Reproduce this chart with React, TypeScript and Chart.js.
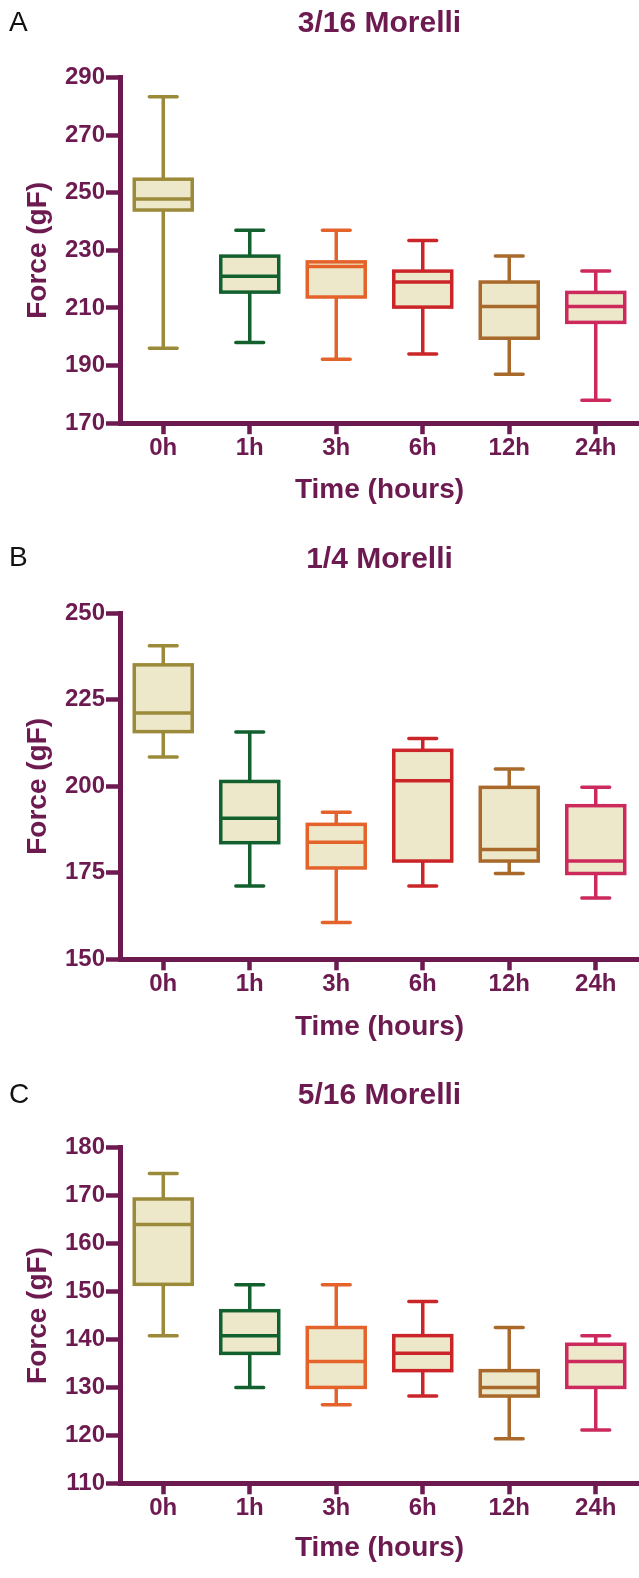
import React, { useEffect, useRef } from "react";
import { Chart, registerables } from "chart.js";

Chart.register(...registerables);

const categories = ["0h", "1h", "3h", "6h", "12h", "24h"];
const boxColors = ["#9b8a3a", "#13602f", "#e3632b", "#cc2529", "#a8692b", "#cc2a5c"];
const boxFill = "#eee8cb";
const purple = "#6c1a50";

// Panel A: 3/16 Morelli
const minA = [196, 198, 192.2, 194, 187, 178];
const q1A = [244, 215.5, 213.8, 210.3, 199.5, 205];
const medA = [247.8, 221, 224.4, 219, 210.5, 210.5];
const q3A = [254.7, 228, 226, 222.8, 219, 215.4];
const maxA = [283.3, 237, 237, 233.4, 228, 222.8];

// Panel B: 1/4 Morelli
const minB = [208.5, 171.2, 160.6, 171.2, 174.8, 167.7];
const q1B = [215.8, 183.7, 176.4, 178.4, 178.4, 174.8];
const medB = [221.2, 190.8, 183.8, 201.6, 181.7, 178.4];
const q3B = [235.1, 201.4, 189, 210.4, 199.7, 194.4];
const maxB = [240.6, 215.7, 192.5, 213.8, 205, 199.7];

// Panel C: 5/16 Morelli
const minC = [140.8, 130, 126.4, 128.2, 119.3, 121.1];
const q1C = [151.5, 137.1, 130, 133.5, 128.2, 130];
const medC = [164, 140.8, 135.4, 137.1, 130, 135.4];
const q3C = [169.3, 146, 142.5, 140.8, 133.5, 139];
const maxC = [174.6, 151.4, 151.4, 147.9, 142.5, 140.8];

const titles = ["3/16 Morelli", "1/4 Morelli", "5/16 Morelli"];
const letters = ["A", "B", "C"];
const yRanges = [
  { min: 170, max: 290, step: 20 },
  { min: 150, max: 250, step: 25 },
  { min: 110, max: 180, step: 10 },
];

type Stats = { min: number[]; q1: number[]; med: number[]; q3: number[]; max: number[] };
const stats: Stats[] = [
  { min: minA, q1: q1A, med: medA, q3: q3A, max: maxA },
  { min: minB, q1: q1B, med: medB, q3: q3B, max: maxB },
  { min: minC, q1: q1C, med: medC, q3: q3C, max: maxC },
];

// layout (canvas-local pixels)
const layouts = [
  { off: 0, H: 540, titleY: 23.5, chartTop: 77.5, chartBottom: 423.2, xTitleY: 490, letterY: 23 },
  { off: 520, H: 540, titleY: 40, chartTop: 93.3, chartBottom: 439.3, xTitleY: 507, letterY: 38 },
  { off: 1040, H: 538, titleY: 56, chartTop: 107.7, chartBottom: 443.3, xTitleY: 508, letterY: 55 },
];

const FONT = "'Liberation Sans', Arial, sans-serif";

function makePlugin(idx: number) {
  const st = stats[idx];
  const lay = layouts[idx];
  return {
    id: "boxWhiskers" + idx,
    afterDatasetsDraw(chart: any) {
      const { ctx } = chart;
      const y = chart.scales.y;
      const meta = chart.getDatasetMeta(0);
      ctx.save();
      ctx.lineWidth = 3.5;
      meta.data.forEach((bar: any, i: number) => {
        const { x, width } = bar.getProps(["x", "width"], true);
        const half = width / 2;
        const pMin = y.getPixelForValue(st.min[i]);
        const pQ1 = y.getPixelForValue(st.q1[i]);
        const pMed = y.getPixelForValue(st.med[i]);
        const pQ3 = y.getPixelForValue(st.q3[i]);
        const pMax = y.getPixelForValue(st.max[i]);
        ctx.strokeStyle = boxColors[i];
        ctx.lineCap = "butt";
        ctx.lineJoin = "miter";
        ctx.beginPath();
        ctx.moveTo(x, pQ3);
        ctx.lineTo(x, pMax);
        ctx.moveTo(x, pQ1);
        ctx.lineTo(x, pMin);
        ctx.stroke();
        ctx.strokeRect(x - half, pQ3, width, pQ1 - pQ3);
        ctx.beginPath();
        ctx.moveTo(x - half, pMed);
        ctx.lineTo(x + half, pMed);
        ctx.stroke();
        ctx.lineCap = "round";
        const cap = width * 0.24;
        ctx.beginPath();
        ctx.moveTo(x - cap, pMax);
        ctx.lineTo(x + cap, pMax);
        ctx.moveTo(x - cap, pMin);
        ctx.lineTo(x + cap, pMin);
        ctx.stroke();
      });
      ctx.restore();
    },
    afterDraw(chart: any) {
      const { ctx } = chart;
      ctx.save();
      ctx.fillStyle = "#111";
      ctx.font = "28px " + FONT;
      ctx.textAlign = "left";
      ctx.textBaseline = "middle";
      ctx.fillText(letters[idx], 9, lay.letterY);
      ctx.restore();
    },
  };
}

function Panel({ idx }: { idx: number }) {
  const ref = useRef<HTMLCanvasElement>(null);
  useEffect(() => {
    const lay = layouts[idx];
    const st = stats[idx];
    const yr = yRanges[idx];
    const xScaleHeight = lay.H - lay.chartBottom;
    const chart = new Chart(ref.current as HTMLCanvasElement, {
      type: "bar",
      data: {
        labels: categories,
        datasets: [
          {
            data: st.q1.map((v, i) => [v, st.q3[i]]) as any,
            backgroundColor: boxFill,
            borderWidth: 0,
            barPercentage: 0.67,
            categoryPercentage: 1,
          },
        ],
      },
      options: {
        responsive: false,
        animation: false,
        layout: { padding: { top: 0, bottom: 0, left: 0, right: 0 } },
        plugins: {
          legend: { display: false },
          tooltip: { enabled: false },
          title: {
            display: true,
            text: titles[idx],
            fullSize: false,
            color: purple,
            font: { family: FONT, size: 30, weight: "bold", lineHeight: 1.2 },
            padding: { top: lay.titleY - 18, bottom: lay.chartTop - lay.titleY - 18 },
          },
        },
        scales: {
          x: {
            type: "category",
            offset: true,
            afterFit: (s: any) => {
              s.height = xScaleHeight;
            },
            grid: {
              display: true,
              drawOnChartArea: false,
              drawTicks: true,
              offset: false,
              tickLength: 11,
              tickWidth: 4.5,
              tickColor: purple,
              color: purple,
            },
            border: { display: true, color: purple, width: 5 },
            ticks: {
              color: purple,
              padding: 0,
              font: { family: FONT, size: 24, weight: "bold", lineHeight: 1.2 },
              maxRotation: 0,
            },
            title: {
              display: true,
              text: "Time (hours)",
              color: purple,
              font: { family: FONT, size: 28, weight: "bold", lineHeight: 1.2 },
              padding: { top: 0, bottom: lay.H - lay.xTitleY - 16.8 },
            },
          },
          y: {
            type: "linear",
            min: yr.min,
            max: yr.max,
            afterFit: (s: any) => {
              s.width = 120;
            },
            grid: {
              display: true,
              drawOnChartArea: false,
              drawTicks: true,
              tickLength: 14,
              tickWidth: 4.5,
              tickColor: purple,
              color: purple,
            },
            border: { display: true, color: purple, width: 5 },
            ticks: {
              stepSize: yr.step,
              color: purple,
              padding: 1,
              font: { family: FONT, size: 24, weight: "bold", lineHeight: 1.2 },
            },
            title: {
              display: true,
              text: "Force (gF)",
              color: purple,
              font: { family: FONT, size: 28, weight: "bold", lineHeight: 1.2 },
              padding: { top: 21.2, bottom: 0 },
            },
          },
        },
      } as any,
      plugins: [makePlugin(idx)],
    });
    return () => chart.destroy();
  }, [idx]);
  const lay = layouts[idx];
  return (
    <canvas
      ref={ref}
      width={639}
      height={lay.H}
      style={{ position: "absolute", left: 0, top: lay.off, width: 639, height: lay.H }}
    />
  );
}

export default function App() {
  return (
    <div style={{ position: "absolute", left: 0, top: 0, width: 639, height: 1578, background: "#fff" }}>
      <Panel idx={0} />
      <Panel idx={1} />
      <Panel idx={2} />
    </div>
  );
}
